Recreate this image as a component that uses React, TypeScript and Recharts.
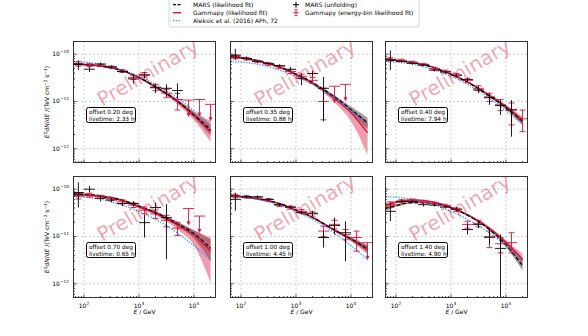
import React from 'react'
import { ComposedChart, Line, Area, Scatter, ErrorBar, XAxis, YAxis, ReferenceLine } from 'recharts'

// model curves are read at these energies (GeV)
const E_GRID = [63, 100, 200, 500, 1000, 2000, 5000, 10000, 20000]
const ALEKSIC = [6.9e-11, 6.8e-11, 6.1e-11, 4.6e-11, 3.4e-11, 2.3e-11, 1.18e-11, 6.4e-12, 3.2e-12]

// energy bins of the flux points
const BIN_E = [79, 126, 200, 316, 501, 794, 1259, 1995, 3162, 5012, 7943, 12589, 19953]
const BIN_EDGES = [63, 100, 158, 251, 398, 631, 1000, 1585, 2512, 3981, 6310, 10000, 15850, 25119]

const X_MAJOR = [100, 1000, 10000]
const X_MINOR = [70, 80, 90, 200, 300, 400, 500, 600, 700, 800, 900, 2000, 3000, 4000, 5000, 6000, 7000, 8000, 9000, 20000]
const Y_MAJOR = [1e-12, 1e-11, 1e-10]
const Y_MINOR = [6e-13, 7e-13, 8e-13, 9e-13, 2e-12, 3e-12, 4e-12, 5e-12, 6e-12, 7e-12, 8e-12, 9e-12, 2e-11, 3e-11, 4e-11, 5e-11, 6e-11, 7e-11, 8e-11, 9e-11]

const OFFSETS = ['0.20', '0.35', '0.40', '0.70', '1.00', '1.40']
const LIVETIMES = ['2.33', '0.88', '7.94', '0.65', '4.45', '4.90']

// panel 1 : 0.20 deg
const P1_GP = [6.2e-11, 6.0e-11, 5.6e-11, 4.5e-11, 3.2e-11, 2.0e-11, 1.0e-11, 5.0e-12, 2.3e-12]
const P1_GP_LO = [5.8e-11, 5.7e-11, 5.4e-11, 4.4e-11, 3.1e-11, 1.9e-11, 8.8e-12, 4.0e-12, 1.4e-12]
const P1_GP_HI = [6.6e-11, 6.3e-11, 5.8e-11, 4.6e-11, 3.3e-11, 2.1e-11, 1.1e-11, 6.0e-12, 3.9e-12]
const P1_MARS = [6.3e-11, 6.1e-11, 5.6e-11, 4.5e-11, 3.25e-11, 2.05e-11, 1.02e-11, 5.2e-12, 2.5e-12]
const P1_MARS_LO = [6.0e-11, 5.9e-11, 5.5e-11, 4.45e-11, 3.15e-11, 1.95e-11, 9.4e-12, 4.5e-12, 1.9e-12]
const P1_MARS_HI = [6.6e-11, 6.3e-11, 5.7e-11, 4.6e-11, 3.35e-11, 2.15e-11, 1.1e-11, 6.0e-12, 3.2e-12]
const P1_UNFOLD = [[0, 6.1e-11, 4.6e-11, 7.4e-11], [1, 4.8e-11, 4.2e-11, 5.5e-11], [2, 6.2e-11, 5.8e-11, 6.7e-11], [3, 5.4e-11, 5.0e-11, 5.8e-11], [4, 4.3e-11, 4.0e-11, 4.6e-11], [5, 3.0e-11, 2.4e-11, 3.6e-11], [6, 3.6e-11, 3.1e-11, 4.1e-11], [7, 1.95e-11, 1.5e-11, 2.4e-11], [8, 1.9e-11, 1.27e-11, 2.3e-11], [9, 1.7e-11, 1.17e-11, 2.4e-11]]
const P1_POINTS = [[0, 6.2e-11, 5.6e-11, 6.9e-11], [1, 5.9e-11, 5.5e-11, 6.3e-11], [2, 5.8e-11, 5.5e-11, 6.1e-11], [3, 5.3e-11, 5.0e-11, 5.6e-11], [4, 4.4e-11, 4.1e-11, 4.7e-11], [5, 3.2e-11, 2.9e-11, 3.5e-11], [6, 3.7e-11, 3.3e-11, 4.1e-11], [7, 2.0e-11, 1.7e-11, 2.3e-11], [8, 1.5e-11, 1.2e-11, 1.8e-11], [9, 1.1e-11, 6.6e-12, 1.48e-11]]
const P1_UL = [[10, 1.07e-11], [11, 1.1e-11], [12, 8.7e-12]]

// panel 2 : 0.35 deg
const P2_GP = [8.8e-11, 8.3e-11, 7.2e-11, 5.3e-11, 3.7e-11, 2.4e-11, 1.15e-11, 5.8e-12, 2.2e-12]
const P2_GP_LO = [8.2e-11, 8.0e-11, 7.0e-11, 5.2e-11, 3.6e-11, 2.25e-11, 9.5e-12, 3.8e-12, 7.5e-13]
const P2_GP_HI = [9.4e-11, 8.7e-11, 7.4e-11, 5.4e-11, 3.85e-11, 2.55e-11, 1.3e-11, 7.0e-12, 3.8e-12]
const P2_MARS = [9.0e-11, 8.5e-11, 7.3e-11, 5.4e-11, 3.8e-11, 2.5e-11, 1.25e-11, 6.8e-12, 3.5e-12]
const P2_MARS_LO = [8.5e-11, 8.2e-11, 7.1e-11, 5.3e-11, 3.7e-11, 2.4e-11, 1.15e-11, 5.8e-12, 2.6e-12]
const P2_MARS_HI = [9.5e-11, 8.8e-11, 7.5e-11, 5.5e-11, 3.9e-11, 2.6e-11, 1.35e-11, 7.8e-12, 4.6e-12]
const P2_UNFOLD = [[0, 9.5e-11, 7.5e-11, 1.3e-10], [1, 8.1e-11, 7.4e-11, 8.9e-11], [2, 7.1e-11, 6.6e-11, 7.6e-11], [3, 6.3e-11, 5.9e-11, 6.7e-11], [4, 5.7e-11, 5.3e-11, 6.1e-11], [5, 4.8e-11, 4.3e-11, 5.3e-11], [6, 3.1e-11, 2.2e-11, 3.9e-11], [7, 3.9e-11, 3.3e-11, 4.5e-11], [8, 1.9e-11, 3.8e-12, 3.3e-11]]
const P2_POINTS = [[0, 8.8e-11, 8.0e-11, 9.6e-11], [1, 8.0e-11, 7.5e-11, 8.5e-11], [2, 7.0e-11, 6.6e-11, 7.4e-11], [3, 6.2e-11, 5.8e-11, 6.6e-11], [4, 5.4e-11, 5.0e-11, 5.8e-11], [5, 4.3e-11, 3.9e-11, 4.7e-11], [6, 3.4e-11, 3.0e-11, 3.8e-11], [7, 2.8e-11, 2.4e-11, 3.2e-11], [8, 1.0e-11, 4.1e-12, 1.9e-11]]
const P2_UL = [[9, 2.1e-11], [10, 2.3e-11]]

// panel 3 : 0.40 deg
const P3_GP = [7.9e-11, 7.5e-11, 6.7e-11, 5.2e-11, 3.8e-11, 2.6e-11, 1.35e-11, 7.8e-12, 4.0e-12]
const P3_GP_LO = [7.5e-11, 7.3e-11, 6.6e-11, 5.15e-11, 3.75e-11, 2.55e-11, 1.28e-11, 7.1e-12, 3.3e-12]
const P3_GP_HI = [8.3e-11, 7.7e-11, 6.8e-11, 5.25e-11, 3.85e-11, 2.65e-11, 1.42e-11, 8.5e-12, 4.7e-12]
const P3_MARS = [7.8e-11, 7.4e-11, 6.6e-11, 5.1e-11, 3.75e-11, 2.55e-11, 1.3e-11, 7.4e-12, 3.8e-12]
const P3_MARS_LO = [7.4e-11, 7.2e-11, 6.5e-11, 5.05e-11, 3.7e-11, 2.5e-11, 1.24e-11, 6.8e-12, 3.2e-12]
const P3_MARS_HI = [8.2e-11, 7.6e-11, 6.7e-11, 5.15e-11, 3.8e-11, 2.6e-11, 1.36e-11, 8.0e-12, 4.4e-12]
const P3_UNFOLD = [[0, 7.5e-11, 4.6e-11, 1.2e-10], [1, 7.0e-11, 6.5e-11, 7.5e-11], [2, 6.4e-11, 6.0e-11, 6.8e-11], [3, 5.9e-11, 5.6e-11, 6.2e-11], [4, 4.6e-11, 4.3e-11, 4.9e-11], [5, 4.2e-11, 3.9e-11, 4.5e-11], [6, 3.6e-11, 3.3e-11, 3.9e-11], [7, 2.9e-11, 2.6e-11, 3.2e-11], [8, 1.75e-11, 1.5e-11, 2.1e-11], [9, 1.2e-11, 8.5e-12, 1.5e-11], [10, 8.2e-12, 5.2e-12, 1.07e-11], [11, 6.6e-12, 1.8e-12, 1.07e-11]]
const P3_POINTS = [[0, 7.8e-11, 7.2e-11, 8.4e-11], [1, 7.4e-11, 7.0e-11, 7.8e-11], [2, 6.8e-11, 6.5e-11, 7.1e-11], [3, 6.1e-11, 5.8e-11, 6.4e-11], [4, 5.0e-11, 4.7e-11, 5.3e-11], [5, 4.3e-11, 4.0e-11, 4.6e-11], [6, 3.6e-11, 3.3e-11, 3.9e-11], [7, 2.8e-11, 2.5e-11, 3.1e-11], [8, 1.9e-11, 1.7e-11, 2.15e-11], [9, 1.25e-11, 1.0e-11, 1.5e-11], [10, 8.5e-12, 6.5e-12, 1.1e-11], [11, 6.8e-12, 3.2e-12, 9.3e-12], [12, 4.3e-12, 2.3e-12, 6.6e-12]]
const P3_UL: number[][] = []

// panel 4 : 0.70 deg
const P4_GP = [7.6e-11, 7.5e-11, 7.0e-11, 5.7e-11, 4.2e-11, 3.1e-11, 1.75e-11, 1.05e-11, 4.9e-12]
const P4_GP_LO = [6.8e-11, 7.0e-11, 6.7e-11, 5.5e-11, 4.0e-11, 2.8e-11, 1.4e-11, 6.5e-12, 1.05e-12]
const P4_GP_HI = [8.4e-11, 8.0e-11, 7.3e-11, 5.9e-11, 4.4e-11, 3.35e-11, 2.05e-11, 1.35e-11, 9.5e-12]
const P4_MARS = [7.9e-11, 7.8e-11, 7.2e-11, 5.9e-11, 4.4e-11, 3.2e-11, 1.85e-11, 1.15e-11, 5.6e-12]
const P4_MARS_LO = [7.3e-11, 7.4e-11, 6.9e-11, 5.75e-11, 4.25e-11, 3.0e-11, 1.65e-11, 9.0e-12, 3.0e-12]
const P4_MARS_HI = [8.5e-11, 8.2e-11, 7.5e-11, 6.05e-11, 4.55e-11, 3.4e-11, 2.05e-11, 1.35e-11, 8.7e-12]
const P4_UNFOLD = [[0, 8.5e-11, 4.1e-11, 1.39e-10], [1, 1.0e-10, 8.5e-11, 1.17e-10], [2, 6.4e-11, 5.5e-11, 7.4e-11], [3, 5.9e-11, 5.3e-11, 6.5e-11], [4, 5.0e-11, 4.4e-11, 5.6e-11], [5, 5.0e-11, 4.4e-11, 5.6e-11], [6, 1.96e-11, 9.5e-12, 2.9e-11], [7, 4.1e-11, 2.9e-11, 5.2e-11], [8, 2.5e-11, 3.3e-12, 4.8e-11]]
const P4_POINTS = [[0, 7.2e-11, 6.2e-11, 8.2e-11], [1, 7.5e-11, 6.8e-11, 8.2e-11], [2, 6.9e-11, 6.4e-11, 7.4e-11], [3, 6.2e-11, 5.7e-11, 6.7e-11], [4, 5.4e-11, 4.9e-11, 5.9e-11], [5, 4.6e-11, 4.1e-11, 5.1e-11], [6, 3.6e-11, 3.0e-11, 4.2e-11], [7, 3.0e-11, 2.4e-11, 3.6e-11], [8, 2.2e-11, 1.6e-11, 2.8e-11], [9, 1.5e-11, 1.05e-11, 2.0e-11]]
const P4_UL = [[10, 3.9e-11], [11, 2.7e-11]]

// panel 5 : 1.00 deg
const P5_GP = [7.2e-11, 6.9e-11, 6.2e-11, 4.9e-11, 3.6e-11, 2.5e-11, 1.35e-11, 8.7e-12, 5.3e-12]
const P5_GP_LO = [6.8e-11, 6.7e-11, 6.1e-11, 4.85e-11, 3.55e-11, 2.45e-11, 1.28e-11, 7.9e-12, 4.2e-12]
const P5_GP_HI = [7.6e-11, 7.1e-11, 6.3e-11, 4.95e-11, 3.65e-11, 2.55e-11, 1.42e-11, 9.5e-12, 6.5e-12]
const P5_MARS = [7.4e-11, 7.1e-11, 6.3e-11, 5.0e-11, 3.65e-11, 2.55e-11, 1.38e-11, 8.9e-12, 5.5e-12]
const P5_MARS_LO = [7.0e-11, 6.9e-11, 6.2e-11, 4.95e-11, 3.6e-11, 2.5e-11, 1.32e-11, 8.2e-12, 4.6e-12]
const P5_MARS_HI = [7.8e-11, 7.3e-11, 6.4e-11, 5.05e-11, 3.7e-11, 2.6e-11, 1.44e-11, 9.6e-12, 6.5e-12]
const P5_UNFOLD = [[0, 6.1e-11, 3.5e-11, 8.5e-11], [1, 6.9e-11, 6.3e-11, 7.5e-11], [2, 6.9e-11, 6.4e-11, 7.4e-11], [3, 6.1e-11, 5.7e-11, 6.5e-11], [4, 4.7e-11, 4.4e-11, 5.0e-11], [5, 4.2e-11, 3.9e-11, 4.5e-11], [6, 3.2e-11, 2.9e-11, 3.5e-11], [7, 3.1e-11, 2.7e-11, 3.5e-11], [8, 9.5e-12, 5.8e-12, 1.3e-11], [9, 1.7e-11, 1.1e-11, 2.5e-11], [10, 1.2e-11, 3.0e-12, 2.1e-11]]
const P5_POINTS = [[0, 7.2e-11, 6.6e-11, 7.8e-11], [1, 6.9e-11, 6.5e-11, 7.3e-11], [2, 6.6e-11, 6.3e-11, 6.9e-11], [3, 6.0e-11, 5.7e-11, 6.3e-11], [4, 4.6e-11, 4.3e-11, 4.9e-11], [5, 4.1e-11, 3.8e-11, 4.4e-11], [6, 3.4e-11, 3.1e-11, 3.7e-11], [7, 3.0e-11, 2.7e-11, 3.3e-11], [8, 1.3e-11, 1.0e-11, 1.65e-11], [9, 1.8e-11, 1.45e-11, 2.2e-11], [10, 1.1e-11, 8.5e-12, 1.4e-11], [11, 9.5e-12, 4.9e-12, 1.3e-11]]
const P5_UL = [[12, 7.4e-12]]

// panel 6 : 1.40 deg
const P6_GP = [4.5e-11, 5.3e-11, 5.9e-11, 5.3e-11, 4.1e-11, 2.9e-11, 1.5e-11, 7.5e-12, 3.3e-12]
const P6_GP_LO = [4.0e-11, 5.0e-11, 5.7e-11, 5.2e-11, 4.0e-11, 2.8e-11, 1.42e-11, 6.8e-12, 2.6e-12]
const P6_GP_HI = [5.0e-11, 5.6e-11, 6.1e-11, 5.4e-11, 4.2e-11, 3.0e-11, 1.58e-11, 8.3e-12, 4.3e-12]
const P6_MARS = [3.9e-11, 4.5e-11, 5.2e-11, 5.0e-11, 4.0e-11, 2.8e-11, 1.4e-11, 6.6e-12, 2.4e-12]
const P6_MARS_LO = [3.4e-11, 4.2e-11, 5.0e-11, 4.9e-11, 3.9e-11, 2.7e-11, 1.32e-11, 5.9e-12, 1.9e-12]
const P6_MARS_HI = [4.4e-11, 4.8e-11, 5.4e-11, 5.1e-11, 4.1e-11, 2.9e-11, 1.48e-11, 7.4e-12, 3.4e-12]
const P6_UNFOLD = [[0, 3.4e-11, 2.1e-11, 5.2e-11], [1, 5.5e-11, 5.0e-11, 6.0e-11], [2, 5.5e-11, 5.1e-11, 5.9e-11], [3, 4.7e-11, 4.3e-11, 5.1e-11], [4, 4.6e-11, 4.3e-11, 4.9e-11], [5, 4.2e-11, 3.9e-11, 4.6e-11], [6, 3.8e-11, 3.4e-11, 4.2e-11], [7, 1.4e-11, 1.1e-11, 1.8e-11], [8, 1.8e-11, 1.5e-11, 2.15e-11], [9, 9.8e-12, 7.0e-12, 1.4e-11], [10, 5.6e-12, 5.2e-13, 1.1e-11]]
const P6_POINTS = [[0, 4.7e-11, 4.1e-11, 5.4e-11], [1, 5.6e-11, 5.2e-11, 6.0e-11], [2, 5.9e-11, 5.6e-11, 6.2e-11], [3, 5.5e-11, 5.2e-11, 5.8e-11], [4, 5.0e-11, 4.7e-11, 5.3e-11], [5, 4.5e-11, 4.2e-11, 4.8e-11], [6, 3.7e-11, 3.4e-11, 4.0e-11], [7, 1.8e-11, 1.5e-11, 2.1e-11], [8, 1.9e-11, 1.6e-11, 2.2e-11], [9, 9.5e-12, 5.8e-12, 1.3e-11], [10, 7.0e-12, 4.5e-12, 9.5e-12], [11, 7.4e-12, 4.5e-12, 1.2e-11]]
const P6_UL: number[][] = []

const PANELS = [
  { gp: P1_GP, gpLo: P1_GP_LO, gpHi: P1_GP_HI, mars: P1_MARS, marsLo: P1_MARS_LO, marsHi: P1_MARS_HI, unfold: P1_UNFOLD, points: P1_POINTS, ul: P1_UL },
  { gp: P2_GP, gpLo: P2_GP_LO, gpHi: P2_GP_HI, mars: P2_MARS, marsLo: P2_MARS_LO, marsHi: P2_MARS_HI, unfold: P2_UNFOLD, points: P2_POINTS, ul: P2_UL },
  { gp: P3_GP, gpLo: P3_GP_LO, gpHi: P3_GP_HI, mars: P3_MARS, marsLo: P3_MARS_LO, marsHi: P3_MARS_HI, unfold: P3_UNFOLD, points: P3_POINTS, ul: P3_UL },
  { gp: P4_GP, gpLo: P4_GP_LO, gpHi: P4_GP_HI, mars: P4_MARS, marsLo: P4_MARS_LO, marsHi: P4_MARS_HI, unfold: P4_UNFOLD, points: P4_POINTS, ul: P4_UL },
  { gp: P5_GP, gpLo: P5_GP_LO, gpHi: P5_GP_HI, mars: P5_MARS, marsLo: P5_MARS_LO, marsHi: P5_MARS_HI, unfold: P5_UNFOLD, points: P5_POINTS, ul: P5_UL },
  { gp: P6_GP, gpLo: P6_GP_LO, gpHi: P6_GP_HI, mars: P6_MARS, marsLo: P6_MARS_LO, marsHi: P6_MARS_HI, unfold: P6_UNFOLD, points: P6_POINTS, ul: P6_UL },
]

const RED = '#dc143c'
const BLUE = '#1e90ff'
const FONT = 'DejaVu Sans'
const BOX_W = 143
const BOX_H = 122
const COL_X = [73, 230, 385]
const ROW_Y = [41, 176]
const AX_W = 30
const PAD = 4
const X_DOMAIN = [63.1, 25119]
const Y_DOMAIN = [5.0e-13, 1.9e-10]

const sup = (v: number) => String(Math.round(Math.log10(v))).replace('-', '\u2212')

function XTick({ x, y, payload, labels }: any) {
  const major = X_MAJOR.includes(payload.value)
  return (
    <g>
      <line x1={x} x2={x} y1={y} y2={y - (major ? 3.5 : 2)} stroke="#000" strokeWidth={0.7} />
      {major && labels && (
        <text x={x} y={y + 10} textAnchor="middle" fontSize={6} fontFamily={FONT} fill="#000">
          10<tspan dy={-3} fontSize={4.3}>{sup(payload.value)}</tspan>
        </text>
      )}
    </g>
  )
}

function YTick({ x, y, payload, labels }: any) {
  const major = Y_MAJOR.includes(payload.value)
  return (
    <g>
      <line x1={x} x2={x + (major ? 3.5 : 2)} y1={y} y2={y} stroke="#000" strokeWidth={0.7} />
      {major && labels && (
        <text x={x - 4} y={y + 2} textAnchor="end" fontSize={6} fontFamily={FONT} fill="#000">
          10<tspan dy={-3} fontSize={4.3}>{sup(payload.value)}</tspan>
        </text>
      )}
    </g>
  )
}

function UpperLimit({ cx, cy }: any) {
  return (
    <g>
      <line x1={cx} x2={cx} y1={cy} y2={cy + 15} stroke={RED} strokeWidth={0.9} />
      <polygon points={`${cx - 2},${cy + 13} ${cx + 2},${cy + 13} ${cx},${cy + 17}`} fill={RED} />
    </g>
  )
}

const noMarker = () => <g />

function toPoint(row: number[]) {
  const [bin, f, lo, hi] = row
  const e = BIN_E[bin]
  return { e, f, ex: [e - BIN_EDGES[bin], BIN_EDGES[bin + 1] - e], ey: [f - lo, hi - f] }
}

function Panel({ idx }: { idx: number }) {
  const p = PANELS[idx]
  const col = idx % 3
  const row = Math.floor(idx / 3)
  const curve = E_GRID.map((e, i) => ({
    e,
    gp: p.gp[i],
    mars: p.mars[i],
    alek: ALEKSIC[i],
    gpBand: [p.gpLo[i], p.gpHi[i]],
    marsBand: [p.marsLo[i], p.marsHi[i]],
  }))
  const unfold = p.unfold.map(toPoint)
  const points = p.points.map(toPoint)
  const ul = p.ul.map(([bin, f]) => ({ e: BIN_E[bin], f, ex: [BIN_E[bin] - BIN_EDGES[bin], BIN_EDGES[bin + 1] - BIN_E[bin]] }))
  const left = COL_X[col]
  const top = ROW_Y[row]

  return (
    <>
      <div style={{ position: 'absolute', left: left - AX_W, top: top - PAD }}>
        <ComposedChart width={AX_W + BOX_W + PAD} height={PAD + BOX_H + 22} data={curve} margin={{ top: PAD, right: PAD, bottom: 0, left: 0 }}>
          <XAxis
            dataKey="e"
            type="number"
            scale="log"
            domain={X_DOMAIN}
            allowDataOverflow
            ticks={[...X_MAJOR, ...X_MINOR]}
            interval={0}
            tickSize={0}
            tickMargin={0}
            tickLine={false}
            axisLine={false}
            height={22}
            tick={(props: any) => <XTick {...props} labels={row === 1} />}
          />
          <YAxis
            type="number"
            scale="log"
            domain={Y_DOMAIN}
            allowDataOverflow
            ticks={[...Y_MAJOR, ...Y_MINOR]}
            interval={0}
            tickSize={0}
            tickMargin={0}
            tickLine={false}
            axisLine={false}
            width={AX_W}
            tick={(props: any) => <YTick {...props} labels={col === 0} />}
          />
          {X_MAJOR.map(v => <ReferenceLine key={'x' + v} x={v} stroke="#b0b0b0" strokeWidth={0.6} strokeDasharray="2 2" />)}
          {Y_MAJOR.map(v => <ReferenceLine key={'y' + v} y={v} stroke="#b0b0b0" strokeWidth={0.6} strokeDasharray="2 2" />)}
          <Area dataKey="marsBand" type="monotone" stroke="none" fill="#444444" fillOpacity={0.5} isAnimationActive={false} />
          <Area dataKey="gpBand" type="monotone" stroke="none" fill={RED} fillOpacity={0.42} isAnimationActive={false} />
          <Line dataKey="gp" type="monotone" stroke={RED} strokeWidth={1.4} dot={false} isAnimationActive={false} />
          <Line dataKey="mars" type="monotone" stroke="#000" strokeWidth={1.3} strokeDasharray="4 2" dot={false} isAnimationActive={false} />
          <Line dataKey="alek" type="monotone" stroke={BLUE} strokeWidth={1.3} strokeDasharray="1.2 1.5" dot={false} isAnimationActive={false} />
          <Scatter data={points} dataKey="f" shape={noMarker} isAnimationActive={false}>
            <ErrorBar dataKey="ex" direction="x" stroke={RED} strokeWidth={0.9} width={0} />
            <ErrorBar dataKey="ey" direction="y" stroke={RED} strokeWidth={0.9} width={3} />
          </Scatter>
          {ul.length > 0 && (
            <Scatter data={ul} dataKey="f" shape={UpperLimit} isAnimationActive={false}>
              <ErrorBar dataKey="ex" direction="x" stroke={RED} strokeWidth={0.9} width={0} />
            </Scatter>
          )}
          <Scatter data={unfold} dataKey="f" shape={noMarker} isAnimationActive={false}>
            <ErrorBar dataKey="ex" direction="x" stroke="#000" strokeWidth={0.9} width={0} />
            <ErrorBar dataKey="ey" direction="y" stroke="#000" strokeWidth={0.9} width={0} />
          </Scatter>
        </ComposedChart>
      </div>
      <div style={{ position: 'absolute', left, top, width: BOX_W, height: BOX_H, border: '0.8px solid #333', boxSizing: 'border-box', pointerEvents: 'none' }} />
      <div
        style={{
          position: 'absolute', left: left + 13, top: top + 66, width: 50, height: 16,
          border: '0.8px solid #000', borderRadius: 2.5, background: 'rgba(255,255,255,0.85)', boxSizing: 'border-box',
          fontFamily: FONT, fontSize: 5.8, lineHeight: '6.6px', padding: '1px 2px', color: '#000', whiteSpace: 'nowrap',
        }}
      >
        offset {OFFSETS[idx]} deg<br />livetime: {LIVETIMES[idx]} h
      </div>
    </>
  )
}

function Overlay() {
  const ylabel = (cy: number) => (
    <text transform={`translate(49,${cy}) rotate(-90)`} textAnchor="middle" fontSize={6} fontFamily={FONT} fill="#000">
      <tspan fontStyle="italic">E</tspan><tspan dy={-2.5} fontSize={4.3}>2</tspan><tspan dy={2.5}>d</tspan><tspan fontStyle="italic">N</tspan>/d<tspan fontStyle="italic">E</tspan> /(TeV cm<tspan dy={-2.5} fontSize={4.3}>{'\u22122'}</tspan><tspan dy={2.5}> s</tspan><tspan dy={-2.5} fontSize={4.3}>{'\u22121'}</tspan><tspan dy={2.5}>)</tspan>
    </text>
  )
  const legendText = { fontSize: 6, fontFamily: FONT, fill: '#000' }
  return (
    <svg width={588} height={336} style={{ position: 'absolute', left: 0, top: 0, pointerEvents: 'none' }}>
      {[0, 1, 2, 3, 4, 5].map(i => {
        const cx = COL_X[i % 3] + BOX_W / 2 + 4
        const cy = ROW_Y[Math.floor(i / 3)] + 33
        return (
          <text key={i} x={cx} y={cy} transform={`rotate(-30 ${cx} ${cy})`} textAnchor="middle" dominantBaseline="middle" fontSize={20} fontFamily={FONT} fill={RED} fillOpacity={0.4}>
            Preliminary
          </text>
        )
      })}
      {ylabel(ROW_Y[0] + BOX_H / 2)}
      {ylabel(ROW_Y[1] + BOX_H / 2)}
      {COL_X.map(x => (
        <text key={x} x={x + BOX_W / 2} y={314} textAnchor="middle" fontSize={6} fontFamily={FONT} fill="#000">
          <tspan fontStyle="italic">E</tspan> / GeV
        </text>
      ))}
      <rect x={169} y={-2} width={250} height={29} rx={2} fill="#fff" fillOpacity={0.9} stroke="#ccc" strokeWidth={0.8} />
      <line x1={173} x2={181} y1={4.7} y2={4.7} stroke="#000" strokeWidth={1.3} strokeDasharray="3 1.5" />
      <text x={193} y={6.8} {...legendText}>MARS (likelihood fit)</text>
      <line x1={173} x2={181} y1={12.7} y2={12.7} stroke={RED} strokeWidth={1.4} />
      <text x={193} y={14.8} {...legendText}>Gammapy (likelihood fit)</text>
      <line x1={173} x2={181} y1={20.7} y2={20.7} stroke={BLUE} strokeWidth={1.3} strokeDasharray="1.2 1.5" />
      <text x={193} y={22.8} {...legendText}>Aleksic et al. (2016) APh, 72</text>
      <line x1={293} x2={299} y1={4.7} y2={4.7} stroke="#000" strokeWidth={1} />
      <line x1={296} x2={296} y1={1.7} y2={7.7} stroke="#000" strokeWidth={1} />
      <text x={305} y={6.8} {...legendText}>MARS (unfolding)</text>
      <line x1={293} x2={299} y1={12.7} y2={12.7} stroke={RED} strokeWidth={0.9} />
      <line x1={296} x2={296} y1={9.7} y2={15.7} stroke={RED} strokeWidth={0.9} />
      <line x1={294.5} x2={297.5} y1={9.7} y2={9.7} stroke={RED} strokeWidth={0.9} />
      <line x1={294.5} x2={297.5} y1={15.7} y2={15.7} stroke={RED} strokeWidth={0.9} />
      <text x={305} y={14.8} {...legendText}>Gammapy (energy-bin likelihood fit)</text>
    </svg>
  )
}

export default function App() {
  return (
    <div style={{ position: 'absolute', left: 0, top: 0, width: 588, height: 336, background: '#fff', overflow: 'hidden' }}>
      {[0, 1, 2, 3, 4, 5].map(i => <Panel key={i} idx={i} />)}
      <Overlay />
    </div>
  )
}
